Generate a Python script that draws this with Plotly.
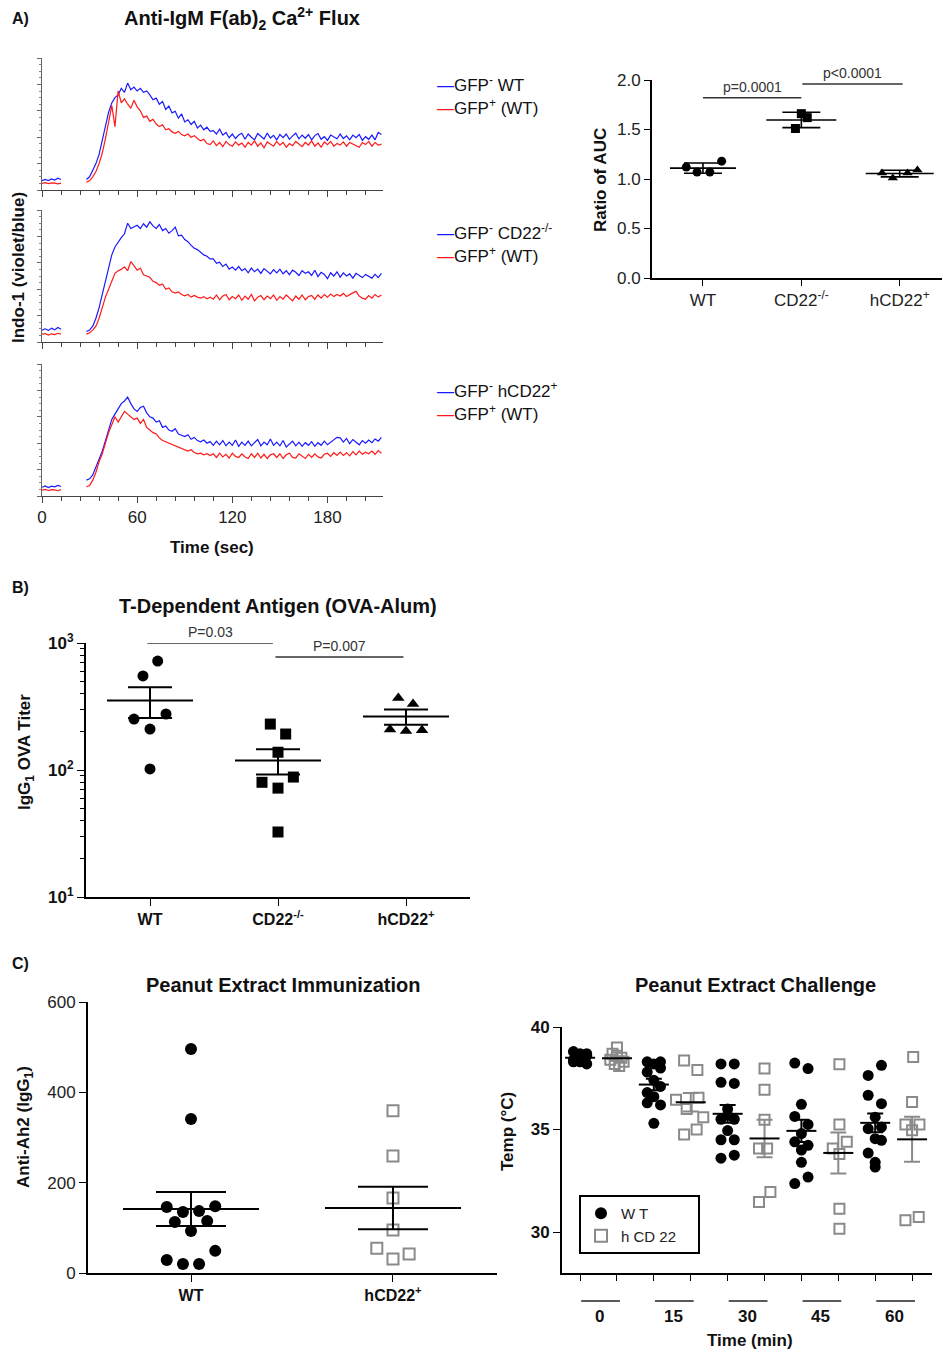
import numpy as np
import plotly.graph_objects as go

W, H = 943, 1353
FONT = "Liberation Sans, Arial, sans-serif"


def fx(p):
    return p / W


def fy(p):
    return 1 - p / H


# ---------------- DATA ----------------
# Panel A: Ca2+ flux traces (Indo-1 ratio, arbitrary units)
pre_t = [0, 2, 4, 6, 8, 10, 12]
post_t = list(range(28, 216, 2))

a1_blue_pre = [0.35, 0.40, 0.36, 0.42, 0.38, 0.45, 0.40]
a1_red_pre = [0.25, 0.28, 0.24, 0.27, 0.26, 0.23, 0.26]
a1_blue_post = [0.40, 0.50, 0.75, 1.00, 1.35, 1.85, 2.40, 2.95, 3.30, 3.50,
                3.60, 3.85, 3.70, 4.05, 3.80, 3.90, 3.75, 3.85, 3.70, 3.75,
                3.60, 3.42, 3.48, 3.25, 3.35, 3.05, 3.18, 2.92, 2.98, 2.72,
                2.88, 2.58, 2.66, 2.48, 2.60, 2.35, 2.46, 2.28, 2.38, 2.22,
                2.25, 2.12, 2.30, 2.08, 2.18, 1.98, 2.12, 1.95, 2.08, 2.15,
                1.92, 2.12, 2.00, 1.90, 2.14, 2.02, 1.93, 2.16, 1.97, 2.07,
                1.90, 2.10, 1.98, 2.12, 1.92, 2.05, 2.15, 1.94, 2.08, 1.96,
                2.10, 1.90, 2.06, 2.14, 1.92, 2.02, 1.88, 2.08, 2.00, 1.94,
                2.12, 1.95, 2.05, 1.90, 2.08, 1.98, 2.10, 1.88, 2.02, 1.92,
                2.08, 1.90, 2.18, 2.10]
a1_red_post = [0.30, 0.35, 0.50, 0.70, 1.00, 1.40, 1.95, 2.55, 3.20, 2.40,
               3.75, 3.30, 3.45, 3.25, 3.10, 3.40, 3.15, 3.00, 2.75, 2.80,
               2.60, 2.68, 2.50, 2.40, 2.47, 2.28, 2.32, 2.20, 2.15, 2.22,
               2.10, 2.05, 2.12, 2.00, 2.06, 1.95, 1.86, 1.92, 1.76, 1.72,
               1.86, 1.68, 1.80, 1.64, 1.84, 1.72, 1.66, 1.82, 1.70, 1.78,
               1.62, 1.80, 1.70, 1.86, 1.66, 1.78, 1.60, 1.82, 1.74, 1.66,
               1.84, 1.70, 1.80, 1.62, 1.76, 1.68, 1.84, 1.72, 1.64, 1.80,
               1.70, 1.86, 1.66, 1.78, 1.62, 1.82, 1.72, 1.84, 1.66, 1.76,
               1.70, 1.82, 1.66, 1.80, 1.74, 1.68, 1.62, 1.80, 1.72, 1.84,
               1.66, 1.80, 1.70, 1.74]

a2_blue_pre = [0.45, 0.50, 0.44, 0.52, 0.46, 0.55, 0.48]
a2_red_pre = [0.30, 0.32, 0.26, 0.31, 0.28, 0.33, 0.30]
a2_blue_post = [0.40, 0.45, 0.60, 0.90, 1.30, 1.80, 2.30, 2.90, 3.30, 3.60,
                3.80, 3.95, 4.10, 4.50, 4.30, 4.35, 4.42, 4.30, 4.48, 4.35,
                4.55, 4.40, 4.30, 4.45, 4.22, 4.30, 4.12, 4.22, 4.35, 4.02,
                4.05, 3.88, 3.80, 3.66, 3.55, 3.50, 3.40, 3.30, 3.25, 3.15,
                3.15, 2.98, 3.02, 2.86, 2.95, 2.76, 2.84, 2.72, 2.86, 2.70,
                2.78, 2.62, 2.80, 2.66, 2.76, 2.60, 2.78, 2.68, 2.58, 2.74,
                2.62, 2.76, 2.58, 2.70, 2.55, 2.72, 2.64, 2.52, 2.70, 2.60,
                2.66, 2.52, 2.72, 2.48, 2.64, 2.56, 2.40, 2.62, 2.50, 2.66,
                2.46, 2.62, 2.50, 2.58, 2.42, 2.60, 2.52, 2.44, 2.56, 2.48,
                2.42, 2.56, 2.44, 2.60]
a2_red_post = [0.30, 0.35, 0.45, 0.60, 0.90, 1.30, 1.70, 2.00, 2.30, 2.60,
               2.70, 2.75, 2.85, 2.70, 3.05, 2.90, 2.72, 2.80, 2.55, 2.50,
               2.45, 2.30, 2.25, 2.15, 2.20, 2.00, 2.05, 1.90, 1.85, 1.90,
               1.80, 1.75, 1.80, 1.70, 1.76, 1.70, 1.66, 1.72, 1.64, 1.70,
               1.62, 1.78, 1.60, 1.74, 1.80, 1.60, 1.72, 1.64, 1.78, 1.58,
               1.74, 1.62, 1.80, 1.56, 1.70, 1.76, 1.60, 1.74, 1.64, 1.78,
               1.58, 1.72, 1.62, 1.78, 1.66, 1.56, 1.74, 1.62, 1.78, 1.60,
               1.72, 1.76, 1.62, 1.78, 1.66, 1.80, 1.70, 1.82, 1.72, 1.80,
               1.74, 1.84, 1.72, 1.80, 1.86, 1.92, 1.74, 1.66, 1.62, 1.76,
               1.66, 1.80, 1.70, 1.78]

a3_blue_pre = [0.33, 0.38, 0.32, 0.37, 0.35, 0.40, 0.36]
a3_red_pre = [0.22, 0.25, 0.21, 0.24, 0.23, 0.20, 0.24]
a3_blue_post = [0.60, 0.65, 0.80, 1.10, 1.40, 1.70, 2.10, 2.50, 2.90, 3.10,
                3.30, 3.50, 3.60, 3.75, 3.50, 3.30, 3.20, 3.35, 3.40, 3.15,
                3.00, 2.95, 2.80, 2.85, 2.60, 2.65, 2.50, 2.45, 2.55, 2.35,
                2.30, 2.25, 2.32, 2.15, 2.22, 2.10, 2.05, 2.12, 2.00, 2.06,
                1.92, 2.08, 1.94, 2.10, 1.90, 2.04, 1.92, 2.12, 1.88, 2.04,
                1.92, 2.08, 1.90, 2.02, 2.14, 1.90, 2.04, 1.94, 2.16, 1.92,
                2.04, 1.90, 2.10, 1.86, 1.98, 2.08, 1.90, 2.04, 1.88, 2.02,
                1.92, 2.06, 1.88, 2.02, 1.92, 2.08, 1.94, 2.04, 2.14, 2.22,
                2.20, 2.04, 2.18, 1.98, 2.14, 2.02, 1.94, 2.10, 2.00, 2.12,
                2.02, 2.16, 2.08, 2.22]
a3_red_post = [0.35, 0.40, 0.60, 0.90, 1.30, 1.60, 2.00, 2.40, 2.70, 3.00,
               2.80, 3.00, 3.20, 3.10, 3.00, 2.90, 2.95, 2.75, 2.90, 2.60,
               2.50, 2.40, 2.35, 2.20, 2.10, 2.05, 2.00, 1.95, 1.90, 1.85,
               1.80, 1.75, 1.70, 1.75, 1.65, 1.60, 1.62, 1.56, 1.60, 1.53,
               1.60, 1.46, 1.62, 1.48, 1.58, 1.44, 1.62, 1.50, 1.46, 1.60,
               1.48, 1.42, 1.60, 1.46, 1.62, 1.44, 1.58, 1.42, 1.56, 1.60,
               1.46, 1.60, 1.42, 1.56, 1.62, 1.46, 1.44, 1.60, 1.50, 1.42,
               1.58, 1.46, 1.60, 1.48, 1.44, 1.58, 1.62, 1.50, 1.64, 1.54,
               1.66, 1.54, 1.64, 1.52, 1.68, 1.56, 1.70, 1.58, 1.66, 1.60,
               1.70, 1.58, 1.72, 1.62]

a_legends = [("GFP<sup>-</sup> WT", "GFP<sup>+</sup> (WT)"),
             ("GFP<sup>-</sup> CD22<sup>-/-</sup>", "GFP<sup>+</sup> (WT)"),
             ("GFP<sup>-</sup> hCD22<sup>+</sup>", "GFP<sup>+</sup> (WT)")]

# Panel A right: ratio of AUC
auc_groups = ["WT", "CD22<sup>-/-</sup>", "hCD22<sup>+</sup>"]
auc_wt = [1.12, 1.07, 1.07, 1.18]
auc_cd22 = [1.51, 1.66, 1.62]
auc_hcd22 = [1.06, 1.01, 1.06, 1.09]
auc_wt_dx = [-0.17, -0.06, 0.07, 0.19]
auc_cd22_dx = [-0.06, 0.0, 0.06]
auc_hcd22_dx = [-0.18, -0.07, 0.08, 0.18]
auc_pvals = [("p=0.0001", 0, 1, 1.82), ("p<0.0001", 1.01, 2.03, 1.96)]

# Panel B: IgG1 OVA titer
b_groups = ["WT", "CD22<sup>-/-</sup>", "hCD22<sup>+</sup>"]
b_wt = [721, 550, 252, 210, 276, 102]
b_cd22 = [230, 192, 138, 80, 88, 72, 32.5]
b_hcd22 = [369, 331, 208, 203, 206]
b_wt_dx = [0.06, -0.055, -0.125, 0.0, 0.125, 0.0]
b_cd22_dx = [-0.06, 0.06, 0.0, -0.125, 0.12, 0.0, 0.0]
b_hcd22_dx = [-0.06, 0.055, -0.125, 0.0, 0.125]
b_pvals = [("P=0.03", -0.02, 0.96, 1000), ("P=0.007", 0.98, 1.98, 776)]

# Panel C left: anti-Ah2 IgG1
c1_groups = ["WT", "hCD22<sup>+</sup>"]
c1_wt = [496, 341, 146, 135, 137, 148, 113, 115, 93, 49, 29, 20, 20]
c1_hcd22 = [359, 259, 166, 95, 55, 31, 42]
c1_wt_dx = [0, 0, -0.12, -0.04, 0.04, 0.12, -0.08, 0.08, 0, 0.12, -0.12, -0.04, 0.04]
c1_hcd22_dx = [0, 0, 0, 0, -0.08, 0, 0.08]

# Panel C right: temperature after challenge
c2_times = ["0", "15", "30", "45", "60"]
c2_wt = [
    [38.8, 38.7, 38.6, 38.5, 38.5, 38.4, 38.3, 38.2, 38.6, 38.4, 38.3, 38.7, 38.5],
    [38.3, 38.3, 38.2, 38.0, 37.8, 37.4, 37.1, 36.8, 36.6, 36.3, 36.2, 35.3],
    [38.2, 38.2, 37.3, 37.25, 36.0, 35.5, 35.5, 34.95, 34.5, 34.5, 33.6, 33.75, 35.7],
    [38.24, 37.97, 36.23, 35.64, 35.25, 34.8, 34.4, 34.23, 34.0, 33.4, 32.68, 32.36],
    [37.64, 38.13, 36.67, 36.26, 35.6, 35.04, 35.12, 34.55, 33.85, 34.47, 33.4, 33.17],
]
c2_hcd22 = [
    [39.0, 38.7, 38.5, 38.4, 38.3, 38.2, 38.1, 38.6],
    [38.37, 37.9, 36.45, 36.0, 36.55, 35.6, 34.76, 35.0],
    [37.97, 36.94, 35.48, 34.07, 34.07, 31.46, 31.95],
    [38.18, 35.25, 34.07, 34.4, 33.8, 31.14, 30.16],
    [38.54, 36.34, 35.25, 35.25, 34.96, 30.57, 30.73],
]
c2_wt_dx = [
    [-0.18, 0, 0.18, -0.09, 0.09, -0.18, 0, 0.18, -0.09, 0.09, -0.18, 0.18, 0],
    [-0.18, 0.18, 0, 0.18, -0.18, 0, 0.18, -0.18, 0, -0.18, 0.18, 0],
    [-0.18, 0.18, -0.18, 0.18, 0, -0.18, 0.18, 0, -0.18, 0.18, -0.18, 0.18, 0],
    [-0.18, 0.18, 0, -0.18, 0.18, 0, -0.18, 0.18, 0, 0, 0.18, -0.18],
    [-0.19, 0.17, -0.19, 0.17, 0, -0.19, 0.17, 0, -0.19, 0.17, 0, 0],
]
c2_hcd22_dx = [
    [0, -0.12, 0.12, -0.18, 0.18, -0.06, 0.06, 0],
    [-0.18, 0.18, -0.4, -0.11, 0.21, 0.34, -0.18, 0.16],
    [0, 0, 0, -0.15, 0.07, -0.15, 0.16],
    [0.03, 0.03, -0.15, 0.23, 0.03, 0.03, 0.03],
    [0.03, 0, -0.18, 0.2, 0, -0.18, 0.18],
]

BLUE = "rgb(25,25,255)"
RED = "rgb(255,25,25)"
GRAY = "#8a8a8a"
SYM_K = 1.4  # plotly draws 'line-ew' markers 1.4x their size

fig = go.Figure()

# ---------- Panel A traces ----------
a_sets = [
    (a1_blue_pre, a1_blue_post, a1_red_pre, a1_red_post),
    (a2_blue_pre, a2_blue_post, a2_red_pre, a2_red_post),
    (a3_blue_pre, a3_blue_post, a3_red_pre, a3_red_post),
]
xs = pre_t + [None] + post_t
for k, (bpre, bpost, rpre, rpost) in enumerate(a_sets):
    sfx = "" if k == 0 else str(k + 1)
    fig.add_trace(go.Scatter(x=xs, y=bpre + [None] + bpost, mode="lines",
                             line=dict(color=BLUE, width=1.2), showlegend=False,
                             xaxis="x" + sfx, yaxis="y" + sfx))
    fig.add_trace(go.Scatter(x=xs, y=rpre + [None] + rpost, mode="lines",
                             line=dict(color=RED, width=1.2), showlegend=False,
                             xaxis="x" + sfx, yaxis="y" + sfx))


def add_group(vals, dx, center, xa, ya, symbol, size, color, fill=True,
              err="sem", mean_w=60, cap_w=18, line_color="black", err_color="black",
              lw=2, name=None, showlegend=False):
    v = np.array(vals, dtype=float)
    xx = [center + d for d in dx]
    if fill:
        marker = dict(symbol=symbol, size=size, color=color)
    else:
        marker = dict(symbol=symbol + "-open", size=size, color=color,
                      line=dict(color=color, width=2))
    fig.add_trace(go.Scatter(x=xx, y=vals, mode="markers", marker=marker,
                             xaxis=xa, yaxis=ya, name=name, showlegend=showlegend,
                             cliponaxis=False))
    m = v.mean()
    sd = v.std(ddof=1)
    e = sd if err == "sd" else sd / np.sqrt(len(v))
    fig.add_trace(go.Scatter(x=[center], y=[m], mode="markers",
                             marker=dict(symbol="line-ew", size=mean_w / SYM_K,
                                         line=dict(color=line_color, width=lw)),
                             error_y=dict(type="data", array=[e], visible=True,
                                          thickness=lw, width=cap_w, color=err_color),
                             xaxis=xa, yaxis=ya, showlegend=False, cliponaxis=False))


# ---------- AUC ----------
add_group(auc_wt, auc_wt_dx, 0, "x4", "y4", "circle", 9, "black", err="sd",
          mean_w=66, cap_w=19, lw=1.6)
add_group(auc_cd22, auc_cd22_dx, 1, "x4", "y4", "square", 9, "black", err="sd",
          mean_w=70, cap_w=19, lw=1.6)
add_group(auc_hcd22, auc_hcd22_dx, 2, "x4", "y4", "triangle-up", 9, "black", err="sd",
          mean_w=68, cap_w=19, lw=1.6)

# ---------- B ----------
add_group(b_wt, b_wt_dx, 0, "x5", "y5", "circle", 11, "black", mean_w=86, cap_w=22)
add_group(b_cd22, b_cd22_dx, 1, "x5", "y5", "square", 11, "black", mean_w=86, cap_w=22)
add_group(b_hcd22, b_hcd22_dx, 2, "x5", "y5", "triangle-up", 11, "black", mean_w=86, cap_w=22)

# ---------- C left ----------
add_group(c1_wt, c1_wt_dx, 0, "x6", "y6", "circle", 12, "black", mean_w=136, cap_w=35)
add_group(c1_hcd22, c1_hcd22_dx, 1, "x6", "y6", "square", 11, GRAY, fill=False,
          mean_w=136, cap_w=35)

# ---------- C right ----------
for i in range(len(c2_times)):
    add_group(c2_wt[i], c2_wt_dx[i], 2 * i, "x7", "y7", "circle", 11, "black",
              mean_w=30, cap_w=8, name="W T", showlegend=(i == 0))
    add_group(c2_hcd22[i], c2_hcd22_dx[i], 2 * i + 1, "x7", "y7", "square", 10, GRAY,
              fill=False, mean_w=30, cap_w=8, err_color=GRAY,
              name="h CD 22&nbsp;&nbsp;&nbsp;&nbsp;", showlegend=(i == 0))

# ---------------- LAYOUT ----------------
base = dict(showgrid=False, zeroline=False, showline=True, linecolor="black",
            ticks="outside", tickcolor="black", automargin=False,
            tickfont=dict(family=FONT, size=17, color="#222"))


def ax(**kw):
    d = dict(base)
    d.update(kw)
    return d


layout = dict(template="none", width=W, height=H, autosize=False,
              margin=dict(l=0, r=0, t=0, b=0, pad=0),
              paper_bgcolor="white", plot_bgcolor="rgba(0,0,0,0)",
              font=dict(family=FONT, color="#222"), showlegend=True)

a_rows = [(58, 190), (210, 342), (364, 496)]
for k, (top, bot) in enumerate(a_rows):
    sfx = "" if k == 0 else str(k + 1)
    layout["xaxis" + sfx] = ax(domain=[fx(42), fx(383)], range=[0, 215], anchor="y" + sfx,
                               tick0=0, dtick=60, ticklen=6, linewidth=1, linecolor="#444",
                               tickcolor="#444", showticklabels=(k == 2),
                               minor=dict(dtick=12, ticklen=4, ticks="outside", tickcolor="#444"))
    layout["yaxis" + sfx] = ax(domain=[fy(bot), fy(top)], range=[0, 5], anchor="x" + sfx,
                               dtick=1, ticklen=4, linewidth=1, linecolor="#666",
                               tickcolor="#666", showticklabels=False,
                               minor=dict(dtick=0.25, ticklen=2, ticks="outside", tickcolor="#888"))

layout["xaxis4"] = ax(domain=[fx(652), fx(942)], range=[-0.518, 2.43], anchor="y4",
                      tickvals=[0, 1, 2], ticktext=auc_groups, ticklen=6, linewidth=2)
layout["yaxis4"] = ax(domain=[fy(278), fy(80)], range=[0, 2], anchor="x4",
                      dtick=0.5, tickformat=".1f", ticklen=6, linewidth=2)

layout["xaxis5"] = ax(domain=[fx(86), fx(470)], range=[-0.5, 2.5], anchor="y5",
                      tickvals=[0, 1, 2], ticktext=["<b>%s</b>" % g for g in b_groups],
                      ticklen=7, linewidth=2,
                      tickfont=dict(family=FONT, size=16, color="#111"))
layout["yaxis5"] = ax(domain=[fy(897), fy(643)], type="log", range=[1, 3], anchor="x5",
                      tickvals=[10, 100, 1000],
                      ticktext=["<b>10<sup>1</sup></b>", "<b>10<sup>2</sup></b>", "<b>10<sup>3</sup></b>"],
                      ticklen=7, linewidth=2,
                      tickfont=dict(family=FONT, size=17, color="#111"),
                      minor=dict(ticks="outside", ticklen=4, tickcolor="black",
                                 tickvals=[m * 10 ** d for d in (1, 2) for m in range(2, 10)]))

layout["xaxis6"] = ax(domain=[fx(88), fx(497)], range=[-0.51, 1.515], anchor="y6",
                      tickvals=[0, 1], ticktext=["<b>%s</b>" % g for g in c1_groups],
                      ticklen=7, linewidth=2,
                      tickfont=dict(family=FONT, size=16, color="#111"))
layout["yaxis6"] = ax(domain=[fy(1273), fy(1002)], range=[0, 600], anchor="x6",
                      tickvals=[0, 200, 400, 600], ticklen=7, linewidth=2)

layout["xaxis7"] = ax(domain=[fx(562), fx(932)], range=[-0.49, 9.54], anchor="y7",
                      tickvals=list(range(10)), showticklabels=False, ticklen=6, linewidth=2)
layout["yaxis7"] = ax(domain=[fy(1273), fy(1027)], range=[28, 40], anchor="x7",
                      tickvals=[30, 35, 40], ticktext=["<b>30</b>", "<b>35</b>", "<b>40</b>"],
                      ticklen=7, linewidth=2,
                      tickfont=dict(family=FONT, size=17, color="#111"))

layout["legend"] = dict(x=fx(579), y=fy(1195), xanchor="left", yanchor="top",
                        bordercolor="black", borderwidth=2, bgcolor="white",
                        font=dict(family=FONT, size=15, color="#222"),
                        itemsizing="constant", tracegroupgap=0)

ann = []
shapes = []


def text(x, y, s, size=17, bold=False, angle=0, xanchor="center", yanchor="middle",
         xref="paper", yref="paper", color="#111", yshift=0):
    ann.append(dict(x=x, y=y, xref=xref, yref=yref, text=("<b>%s</b>" % s) if bold else s,
                    showarrow=False, textangle=angle, xanchor=xanchor, yanchor=yanchor,
                    yshift=yshift, font=dict(family=FONT, size=size, color=color)))


# panel letters and titles
text(fx(10), fy(18), "A)", 16, True, xanchor="left")
text(fx(10), fy(587), "B)", 16, True, xanchor="left")
text(fx(10), fy(963), "C)", 16, True, xanchor="left")
text(fx(242), fy(18), "Anti-IgM F(ab)<sub>2</sub> Ca<sup>2+</sup> Flux", 20, True)
text(fx(278), fy(606), "T-Dependent Antigen (OVA-Alum)", 20, True)
text(fx(283), fy(985), "Peanut Extract Immunization", 20, True)
text(fx(755), fy(985), "Peanut Extract Challenge", 20, True)

# axis titles
text(fx(18), fy(268), "Indo-1 (violet/blue)", 17, True, angle=-90)
text(fx(212), fy(547), "Time (sec)", 17, True)
text(fx(600), fy(180), "Ratio of AUC", 17, True, angle=-90)
text(fx(26), fy(752), "IgG<sub>1</sub> OVA Titer", 17, True, angle=-90)
text(fx(25), fy(1127), "Anti-Ah2 (IgG<sub>1</sub>)", 17, True, angle=-90)
text(fx(507), fy(1132), "Temp (°C)", 17, True, angle=-90)
text(fx(750), fy(1340), "Time (min)", 17, True)

# panel A legends
leg_y = [(84, 107), (232, 255), (390, 413)]
for (lb, lr), (yb, yr) in zip(a_legends, leg_y):
    text(fx(435), fy(yb), '<span style="color:%s">—</span>%s' % (BLUE, lb), 17,
         xanchor="left")
    text(fx(435), fy(yr), '<span style="color:%s">—</span>%s' % (RED, lr), 17,
         xanchor="left")

# significance bars
for s, x0, x1, yv in auc_pvals:
    shapes.append(dict(type="line", xref="x4", yref="y4", x0=x0, x1=x1, y0=yv, y1=yv,
                       line=dict(color="#333", width=1.5)))
    text((x0 + x1) / 2, yv, s, 14, xref="x4", yref="y4", color="#333",
         yanchor="bottom", yshift=1)
for s, x0, x1, yv in b_pvals:
    shapes.append(dict(type="line", xref="x5", yref="y5", x0=x0, x1=x1, y0=yv, y1=yv,
                       line=dict(color="#333", width=1.5)))
    text((x0 + x1) / 2, np.log10(yv), s, 14, xref="x5", yref="y5", color="#333",
         yanchor="bottom", yshift=1)

# time group labels for C right
for i, t in enumerate(c2_times):
    shapes.append(dict(type="line", xref="x7", yref="paper", x0=2 * i + 0.03, x1=2 * i + 1.08,
                       y0=fy(1301), y1=fy(1301), line=dict(color="#222", width=1.5)))
    text(2 * i + 0.53, fy(1316), t, 17, True, xref="x7")

layout["annotations"] = ann
layout["shapes"] = shapes
fig.update_layout(**layout)
fig.write_html("out.html", config={"displayModeBar": False},
               post_script="document.body.style.margin='0';document.body.style.padding='0';"
                           "document.documentElement.style.overflow='hidden';")
